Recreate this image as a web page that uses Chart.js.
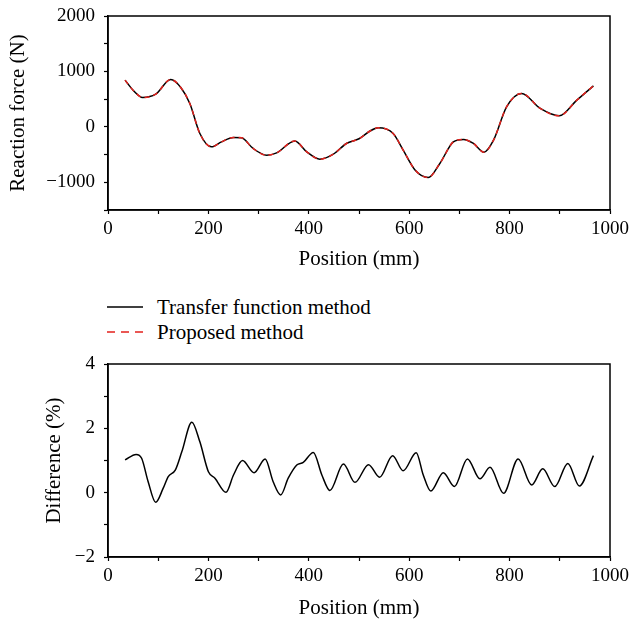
<!DOCTYPE html>
<html>
<head>
<meta charset="utf-8">
<script src="https://cdn.jsdelivr.net/npm/chart.js@4.4.1/dist/chart.umd.min.js"></script>
<style>
  body { margin: 0; background: #fff; }
  #page { position: relative; width: 629px; height: 626px; background: #fff; font-family: "Liberation Serif", serif; }
  #topChart { position: absolute; left: 0; top: 0; }
  #bottomChart { position: absolute; left: 0; top: 350px; }
  .legendRow { position: absolute; left: 107px; height: 24px; display: flex; align-items: center; font-size: 21px; color: #000; }
  .legendRow svg { margin-right: 14px; }
</style>
</head>
<body>
<div id="page">
  <canvas id="topChart" width="629" height="280"></canvas>
  <div class="legendRow" style="top: 295px;">
    <svg width="36" height="4"><line x1="0" y1="2" x2="36" y2="2" stroke="#000" stroke-width="1.5"/></svg>
    <span>Transfer function method</span>
  </div>
  <div class="legendRow" style="top: 320px;">
    <svg width="36" height="4"><line x1="0" y1="2" x2="36" y2="2" stroke="#e3211c" stroke-width="1.5" stroke-dasharray="8 6"/></svg>
    <span>Proposed method</span>
  </div>
  <canvas id="bottomChart" width="629" height="276"></canvas>
</div>
<script>
// values
const forcePositions = [34, 50, 69, 95, 125, 145, 163, 183, 206, 226, 250, 266, 289, 316, 336, 372, 396, 422, 449, 475, 500, 522, 538, 568, 588, 612, 638, 661, 688, 708, 728, 749, 768, 794, 824, 861, 899, 934, 967];
const transferForce = [843, 662, 531, 590, 855, 711, 422, -120, -361, -271, -191, -198, -390, -511, -469, -253, -451, -583, -493, -300, -215, -75, -18, -120, -420, -782, -914, -661, -271, -227, -300, -457, -240, 361, 603, 332, 199, 482, 740];
const proposedForce = [843, 662, 531, 590, 855, 711, 422, -120, -361, -271, -191, -198, -390, -511, -469, -253, -451, -583, -493, -300, -215, -75, -18, -120, -420, -782, -914, -661, -271, -227, -300, -457, -240, 361, 603, 332, 199, 482, 740];

const diffPositions = [34, 56, 67, 80, 95, 110, 120, 134, 147, 167, 183, 200, 213, 235, 250, 268, 291, 313, 329, 344, 359, 376, 389, 409, 426, 442, 469, 492, 519, 541, 567, 588, 614, 628, 643, 668, 690, 716, 741, 761, 788, 817, 844, 866, 890, 916, 939, 967];
const diffPercent = [1.02, 1.19, 1.07, 0.34, -0.30, 0.14, 0.50, 0.70, 1.27, 2.19, 1.58, 0.65, 0.45, 0.01, 0.55, 1.0, 0.62, 1.05, 0.34, -0.07, 0.45, 0.86, 0.94, 1.25, 0.55, 0.07, 0.89, 0.32, 0.87, 0.48, 1.15, 0.68, 1.24, 0.55, 0.05, 0.62, 0.19, 1.05, 0.43, 0.79, -0.02, 1.05, 0.24, 0.74, 0.19, 0.91, 0.21, 1.15];

const xTicks = [0, 200, 400, 600, 800, 1000];
const forceTicks = [-1000, 0, 1000, 2000];
const diffTicks = [-2, 0, 2, 4];

Chart.defaults.font.family = '"Liberation Serif", serif';
Chart.defaults.color = '#000';

function pairs(xs, ys) {
    return xs.map((x, i) => ({x: x, y: ys[i]}));
}
function fmt(v) {
    return v < 0 ? '\u2212' + Math.abs(v) : String(v);
}

// box around the plot area
const frame = {
    id: 'frame',
    afterDraw(chart) {
        const a = chart.chartArea, ctx = chart.ctx;
        ctx.save();
        ctx.strokeStyle = '#000';
        ctx.lineWidth = 1.5;
        ctx.strokeRect(a.left, a.top, a.right - a.left, a.bottom - a.top);
        ctx.restore();
    }
};

function xScale(axisHeight, titlePad) {
    return {
        type: 'linear', min: 0, max: 1000,
        afterFit: s => {
            s.height = axisHeight;
            s.paddingLeft = 0;
            s.paddingRight = 0;
        },
        ticks: {
            stepSize: 100, padding: 4, maxRotation: 0, autoSkip: false,
            font: {size: 19},
            callback: v => xTicks.includes(v) ? fmt(v) : ''
        },
        grid: {drawOnChartArea: false, tickLength: 4, tickColor: '#000', tickWidth: 1.2},
        border: {color: '#000', width: 1.5},
        title: {display: true, text: 'Position (mm)', font: {size: 21}, padding: {top: 0, bottom: titlePad}}
    };
}

function yScale(min, max, step, labels, title, titlePad) {
    return {
        min: min, max: max,
        afterFit: s => {
            s.width = 108;
            s.paddingTop = 0;
            s.paddingBottom = 0;
        },
        ticks: {
            stepSize: step, padding: 9, autoSkip: false,
            font: {size: 19},
            callback: v => labels.includes(v) ? fmt(v) : ''
        },
        grid: {drawOnChartArea: false, tickLength: 4, tickColor: '#000', tickWidth: 1.2},
        border: {color: '#000', width: 1.5},
        title: {display: true, text: title, font: {size: 21}, padding: {top: titlePad, bottom: 0}}
    };
}

new Chart(document.getElementById('topChart'), {
    type: 'line',
    data: {
        datasets: [{
            label: 'Transfer function method',
            data: pairs(forcePositions, transferForce),
            borderColor: '#000',
            borderWidth: 1.5,
            order: 2
        }, {
            label: 'Proposed method',
            data: pairs(forcePositions, proposedForce),
            borderColor: '#e3211c',
            borderWidth: 1.5,
            borderDash: [5, 4],
            order: 1
        }]
    },
    options: {
        responsive: false,
        animation: false,
        layout: {padding: {top: 16, right: 19, left: 0, bottom: 0}},
        elements: {point: {radius: 0}, line: {cubicInterpolationMode: 'monotone'}},
        plugins: {legend: {display: false}, tooltip: {enabled: false}},
        scales: {
            x: xScale(70, 8),
            y: yScale(-1500, 2000, 500, forceTicks, 'Reaction force (N)', 6)
        }
    },
    plugins: [frame]
});

new Chart(document.getElementById('bottomChart'), {
    type: 'line',
    data: {
        datasets: [{
            label: 'Difference',
            data: pairs(diffPositions, diffPercent),
            borderColor: '#000',
            borderWidth: 1.5
        }]
    },
    options: {
        responsive: false,
        animation: false,
        layout: {padding: {top: 14, right: 19, left: 0, bottom: 0}},
        elements: {point: {radius: 0}, line: {cubicInterpolationMode: 'monotone'}},
        plugins: {legend: {display: false}, tooltip: {enabled: false}},
        scales: {
            x: xScale(69, 5),
            y: yScale(-2, 4, 1, diffTicks, 'Difference (%)', 42)
        }
    },
    plugins: [frame]
});
</script>
</body>
</html>
